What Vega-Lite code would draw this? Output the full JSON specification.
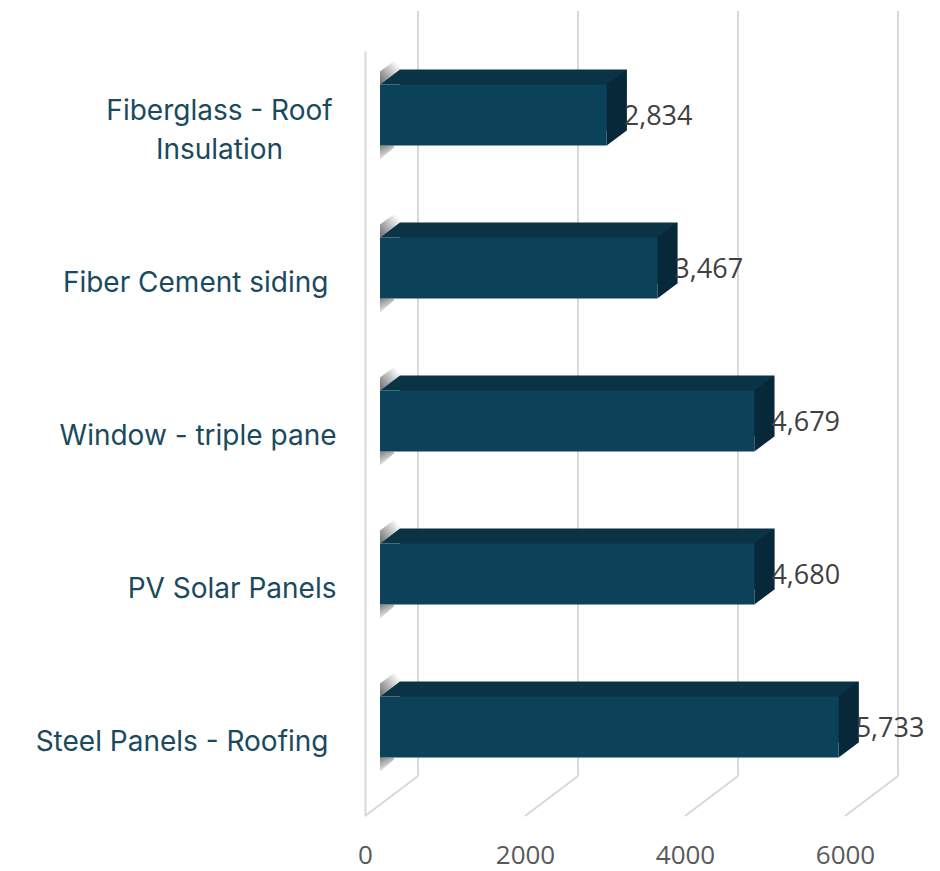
{
  "$schema": "https://vega.github.io/schema/vega-lite/v6.json",
  "width": 480,
  "height": 765,
  "autosize": {"type": "none"},
  "padding": {"left": 365, "top": 51, "right": 95, "bottom": 55},
  "background": "white",
  "config": {"view": {"stroke": null}},
  "datasets": {
    "bars": [
      {"material": "Fiberglass - Roof Insulation", "emissions": 2834},
      {"material": "Fiber Cement siding", "emissions": 3467},
      {"material": "Window - triple pane", "emissions": 4679},
      {"material": "PV Solar Panels", "emissions": 4680},
      {"material": "Steel Panels - Roofing", "emissions": 5733}
    ],
    "grid": [{"tick": 0}, {"tick": 2000}, {"tick": 4000}, {"tick": 6000}]
  },
  "layer": [
    {
      "data": {"name": "grid"},
      "mark": {"type": "rule", "color": "#d9d9d9", "strokeWidth": 2, "xOffset": 53, "x2Offset": 53, "yOffset": -40, "y2Offset": -40},
      "encoding": {
        "x": {
          "field": "tick", "type": "quantitative",
          "scale": {"domain": [0, 6000], "nice": false, "zero": true},
          "axis": {
            "title": null, "values": [0, 2000, 4000, 6000], "format": "d",
            "domain": false, "ticks": false, "grid": false,
            "labelPadding": 26, "labelFont": "Open Sans", "labelFontSize": 26,
            "labelColor": "#595959", "labelFlush": false, "labelOverlap": false
          }
        },
        "x2": {"field": "tick"},
        "y": {"value": 0},
        "y2": {"value": "height"}
      }
    },
    {
      "data": {"name": "grid"},
      "mark": {"type": "rule", "color": "#d9d9d9", "strokeWidth": 2, "x2Offset": 53, "y2Offset": -40},
      "encoding": {
        "x": {
          "field": "tick", "type": "quantitative",
          "scale": {"domain": [0, 6000], "nice": false, "zero": true},
          "axis": {
            "title": null, "values": [0, 2000, 4000, 6000], "format": "d",
            "domain": false, "ticks": false, "grid": false,
            "labelPadding": 26, "labelFont": "Open Sans", "labelFontSize": 26,
            "labelColor": "#595959", "labelFlush": false, "labelOverlap": false
          }
        },
        "x2": {"field": "tick"},
        "y": {"value": "height"},
        "y2": {"value": "height"}
      }
    },
    {
      "data": {"name": "bars"},
      "mark": {
        "type": "point", "shape": "M15,-43 L15,-56 L35,-71 L35,-58 Z", "size": 4, "filled": true, "opacity": 1, "strokeWidth": 0,
        "color": {"gradient": "linear", "x1": 0, "y1": 0.9, "x2": 0.7, "y2": 0.1, "stops": [{"offset": 0, "color": "rgba(70,70,70,0.75)"}, {"offset": 1, "color": "rgba(70,70,70,0)"}]}
      },
      "encoding": {
        "x": {"datum": 0, "type": "quantitative", "scale": {"domain": [0, 6000], "nice": false, "zero": true}},
        "y": {"field": "material", "type": "nominal", "sort": null, "scale": {"type": "band", "paddingInner": 0, "paddingOuter": 0}}
      }
    },
    {
      "data": {"name": "bars"},
      "mark": {
        "type": "point", "shape": "M15,18 L15,32 L29,20 L29,18 Z", "size": 4, "filled": true, "opacity": 1, "strokeWidth": 0,
        "color": {"gradient": "linear", "x1": 0, "y1": 0, "x2": 0.5, "y2": 1, "stops": [{"offset": 0, "color": "rgba(70,70,70,0.7)"}, {"offset": 1, "color": "rgba(70,70,70,0)"}]}
      },
      "encoding": {
        "x": {"datum": 0, "type": "quantitative", "scale": {"domain": [0, 6000], "nice": false, "zero": true}},
        "y": {"field": "material", "type": "nominal", "sort": null, "scale": {"type": "band", "paddingInner": 0, "paddingOuter": 0}}
      }
    },
    {
      "data": {"name": "bars"},
      "mark": {"type": "bar", "color": "#0a3346", "size": 61, "xOffset": 35, "x2Offset": 35, "yOffset": -27.5},
      "encoding": {
        "x": {
          "field": "emissions", "type": "quantitative",
          "scale": {"domain": [0, 6000], "nice": false, "zero": true},
          "axis": {
            "title": null, "values": [0, 2000, 4000, 6000], "format": "d",
            "domain": false, "ticks": false, "grid": false,
            "labelPadding": 26, "labelFont": "Open Sans", "labelFontSize": 26,
            "labelColor": "#595959", "labelFlush": false, "labelOverlap": false
          }
        },
        "y": {
          "field": "material", "type": "nominal", "sort": null,
          "scale": {"type": "band", "paddingInner": 0, "paddingOuter": 0},
          "axis": {
            "title": null, "domain": true, "domainColor": "#d9d9d9", "domainWidth": 2,
            "ticks": false, "grid": false,
            "labelExpr": "datum.value === 'Fiberglass - Roof Insulation' ? ['Fiberglass - Roof', 'Insulation'] : datum.label",
            "labelAlign": {"condition": {"test": "datum.value === 'Fiberglass - Roof Insulation'", "value": "center"}, "value": "right"},
            "labelPadding": {"condition": [
              {"test": "datum.value === 'Fiberglass - Roof Insulation'", "value": 146},
              {"test": "datum.value === 'Fiber Cement siding' || datum.value === 'Steel Panels - Roofing'", "value": 37}
            ], "value": 29},
            "labelOffset": {"condition": {"test": "datum.value === 'Fiberglass - Roof Insulation'", "value": -16}, "value": 3},
            "labelLineHeight": 39, "labelLimit": 400,
            "labelFont": "Inter", "labelFontSize": 28, "labelColor": "#1a4a5e"
          }
        }
      }
    },
    {
      "data": {"name": "bars"},
      "mark": {"type": "point", "shape": "M15,-43 L35,-58 L35,-43 Z", "size": 4, "filled": true, "opacity": 1, "color": "#0a3346", "strokeWidth": 0},
      "encoding": {
        "x": {"datum": 0, "type": "quantitative", "scale": {"domain": [0, 6000], "nice": false, "zero": true}},
        "y": {"field": "material", "type": "nominal", "sort": null, "scale": {"type": "band", "paddingInner": 0, "paddingOuter": 0}}
      }
    },
    {
      "data": {"name": "bars"},
      "mark": {"type": "point", "shape": "M15,-43 L35,-58 L35,3 L15,18 Z", "size": 4, "filled": true, "opacity": 1, "color": "#072838", "strokeWidth": 0},
      "encoding": {
        "x": {"field": "emissions", "type": "quantitative", "scale": {"domain": [0, 6000], "nice": false, "zero": true}},
        "y": {"field": "material", "type": "nominal", "sort": null, "scale": {"type": "band", "paddingInner": 0, "paddingOuter": 0}}
      }
    },
    {
      "data": {"name": "bars"},
      "mark": {"type": "bar", "color": "#0b4159", "size": 61, "xOffset": 15, "x2Offset": 15, "yOffset": -12.5},
      "encoding": {
        "x": {"field": "emissions", "type": "quantitative", "scale": {"domain": [0, 6000], "nice": false, "zero": true}},
        "y": {"field": "material", "type": "nominal", "sort": null, "scale": {"type": "band", "paddingInner": 0, "paddingOuter": 0}}
      }
    },
    {
      "data": {"name": "bars"},
      "mark": {"type": "text", "align": "left", "baseline": "middle", "dx": 32, "dy": -11, "font": "Open Sans", "fontSize": 27, "color": "#404040"},
      "encoding": {
        "x": {"field": "emissions", "type": "quantitative", "scale": {"domain": [0, 6000], "nice": false, "zero": true}},
        "y": {"field": "material", "type": "nominal", "sort": null, "scale": {"type": "band", "paddingInner": 0, "paddingOuter": 0}},
        "text": {"field": "emissions", "type": "quantitative", "format": ","}
      }
    }
  ]
}
